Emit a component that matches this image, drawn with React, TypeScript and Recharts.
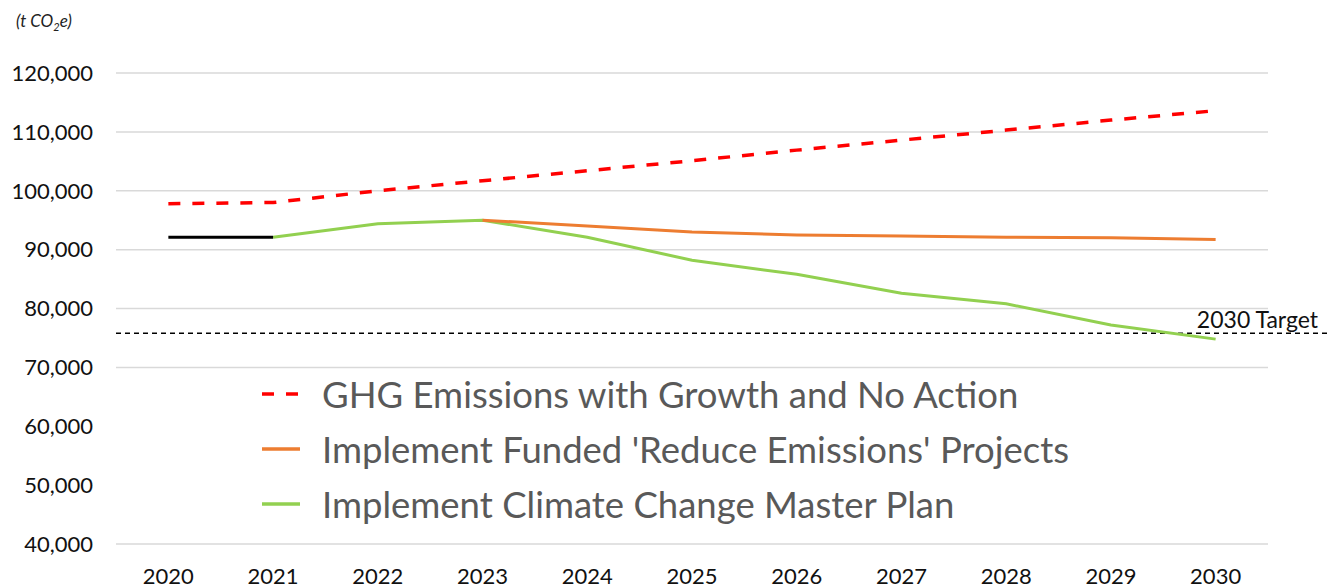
import React from 'react';
import { LineChart, Line, XAxis, YAxis, CartesianGrid, ReferenceLine } from 'recharts';

const years = ['2020', '2021', '2022', '2023', '2024', '2025', '2026', '2027', '2028', '2029', '2030'];
const noAction = [97800, 98000, 100000, 101700, 103400, 105100, 106900, 108600, 110300, 112000, 113600];
const historical = [92100, 92100, null, null, null, null, null, null, null, null, null];
const funded = [null, null, null, 95000, 94000, 93000, 92500, 92300, 92100, 92000, 91700];
const masterPlan = [null, 92100, 94400, 95000, 92100, 88200, 85800, 82600, 80800, 77200, 74800];
const target = 75800;
const yTicks = [40000, 50000, 60000, 70000, 80000, 90000, 100000, 110000, 120000];

const seriesNames = {
  noAction: 'GHG Emissions with Growth and No Action',
  funded: "Implement Funded 'Reduce Emissions' Projects",
  masterPlan: 'Implement Climate Change Master Plan',
};

const data = years.map((y, i) => ({
  year: y,
  noAction: noAction[i],
  historical: historical[i],
  funded: funded[i],
  masterPlan: masterPlan[i],
}));

const FONT = 'Lato, "Open Sans", sans-serif';

const legendItems = [
  { name: seriesNames.noAction, color: '#FF0000', dash: '12 12' },
  { name: seriesNames.funded, color: '#ED7D31', dash: undefined },
  { name: seriesNames.masterPlan, color: '#92D050', dash: undefined },
];

const LegendBox = () => (
  <div
    style={{
      position: 'absolute',
      left: 114,
      top: 371,
      width: 1182,
      height: 170,
      background: '#fff',
      fontFamily: FONT,
    }}
  >
    <div style={{ position: 'absolute', left: 148, top: -5 }}>
      {legendItems.map((it) => (
        <div key={it.name} style={{ display: 'flex', alignItems: 'center', height: 55 }}>
          <svg width={60} height={10}>
            <line x1={0} y1={5} x2={38} y2={5} stroke={it.color} strokeWidth={3.5} strokeDasharray={it.dash} />
          </svg>
          <span style={{ fontSize: 36.5, color: '#595959', lineHeight: '40px', whiteSpace: 'nowrap' }}>{it.name}</span>
        </div>
      ))}
    </div>
  </div>
);

export default function App() {
  return (
    <div style={{ position: 'absolute', left: 0, top: 0, width: 1330, height: 588, background: '#fff', fontFamily: FONT }}>
      <LineChart width={1330} height={588} data={data} margin={{ top: 73, right: 62, bottom: 0, left: 0 }}>
        <CartesianGrid horizontal={true} vertical={false} stroke="#d9d9d9" strokeWidth={1.5} />
        <XAxis
          dataKey="year"
          scale="band"
          axisLine={false}
          tickLine={false}
          tickSize={0}
          tickMargin={24}
          height={44}
          tick={{ fontSize: 22, fill: '#111', fontFamily: FONT }}
        />
        <YAxis
          domain={[40000, 120000]}
          ticks={yTicks}
          width={116}
          axisLine={false}
          tickLine={false}
          tickSize={0}
          tickMargin={23}
          tickFormatter={(v: number) => v.toLocaleString('en-US')}
          tick={{ fontSize: 22, fill: '#111', fontFamily: FONT }}
        />
        <ReferenceLine
          y={target}
          shape={(p: any) => (
            <g>
              <line x1={p.x1} y1={p.y1} x2={p.x2 + 62} y2={p.y2} stroke="#000" strokeWidth={1.5} strokeDasharray="5 4" />
              <text x={p.x2 + 50} y={p.y1 - 5} textAnchor="end" fontSize={23} fill="#111" fontFamily={FONT}>
                2030 Target
              </text>
            </g>
          )}
        />
        <Line dataKey="masterPlan" name={seriesNames.masterPlan} stroke="#92D050" strokeWidth={3} dot={false} isAnimationActive={false} />
        <Line dataKey="funded" name={seriesNames.funded} stroke="#ED7D31" strokeWidth={3} dot={false} isAnimationActive={false} />
        <Line dataKey="historical" stroke="#000" strokeWidth={3} dot={false} isAnimationActive={false} />
        <Line dataKey="noAction" name={seriesNames.noAction} stroke="#FF0000" strokeWidth={3.5} strokeDasharray="12 12" dot={false} isAnimationActive={false} />
      </LineChart>
      <div style={{ position: 'absolute', left: 16, top: 10, fontSize: 17, fontStyle: 'italic', color: '#222' }}>
        (t CO<sub style={{ fontSize: 11 }}>2</sub>e)
      </div>
      <LegendBox />
    </div>
  );
}
